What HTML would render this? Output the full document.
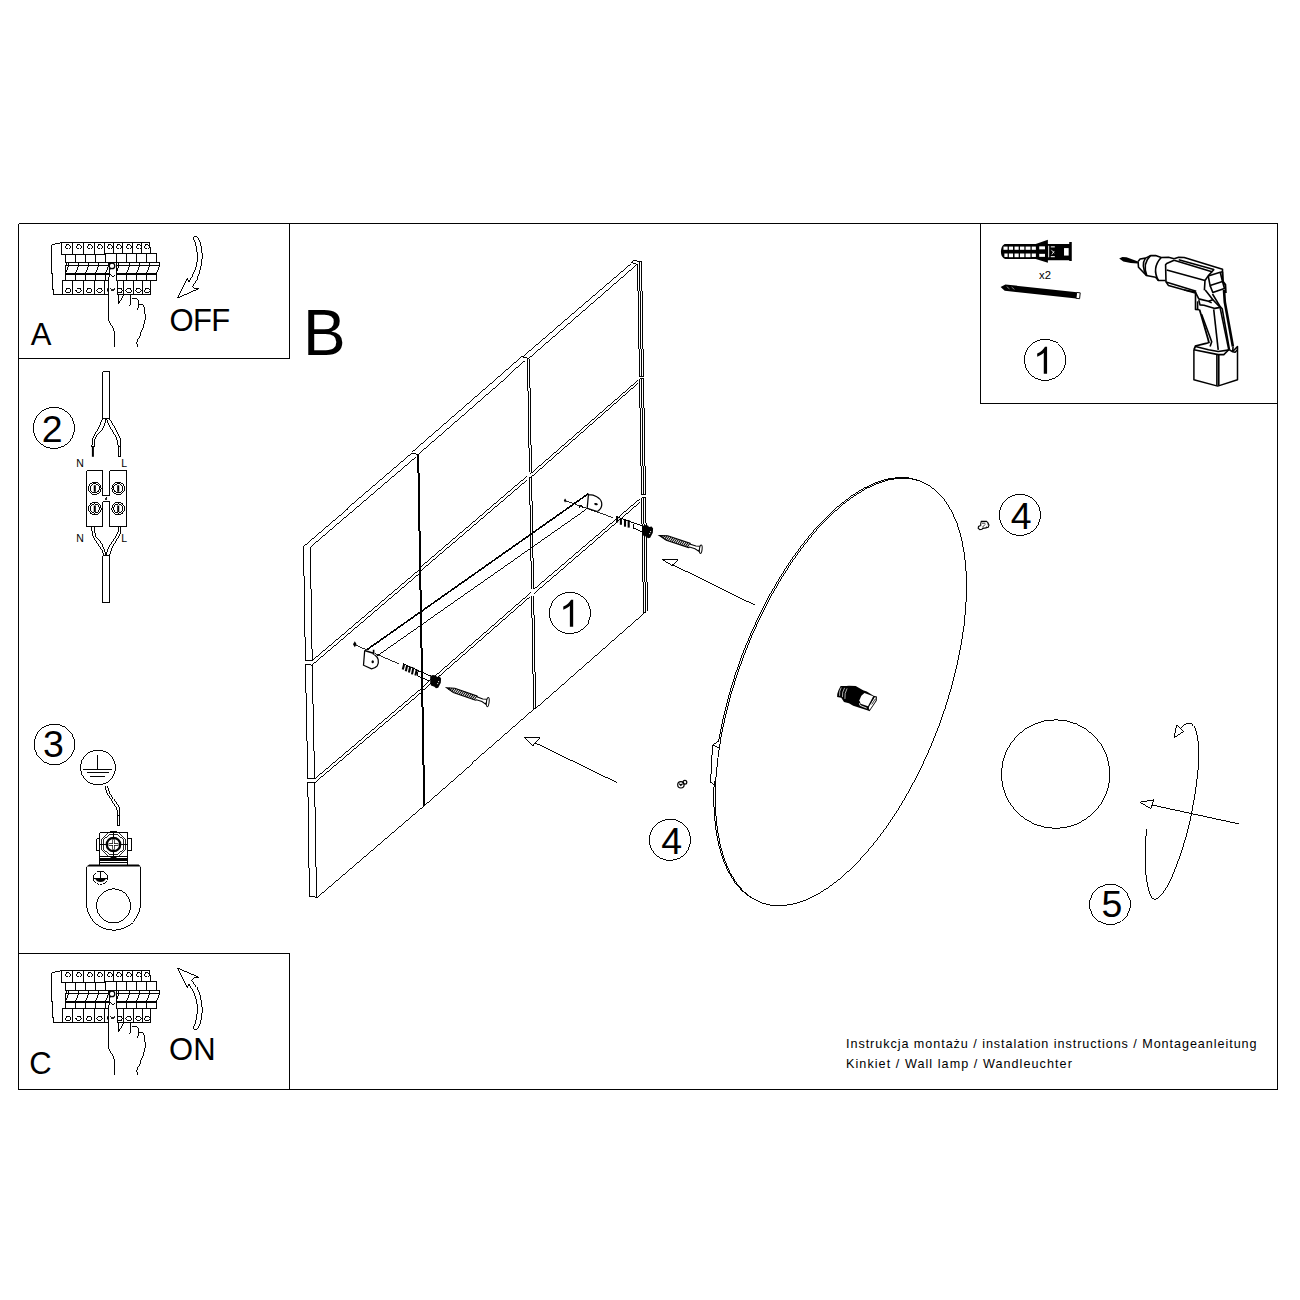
<!DOCTYPE html>
<html><head><meta charset="utf-8"><title>Instrukcja montazu</title>
<style>
html,body{margin:0;padding:0;background:#fff;}
body{width:1300px;height:1300px;overflow:hidden;font-family:"Liberation Sans",sans-serif;}
svg{display:block;position:absolute;left:0;top:0;}
svg text{font-family:"Liberation Sans",sans-serif;fill:#000;}
.l{fill:none;stroke:#000;stroke-width:.99;shape-rendering:crispEdges;}
.t{fill:none;stroke:#000;stroke-width:.85;shape-rendering:crispEdges;}
.m{fill:none;stroke:#000;stroke-width:1.6;stroke-linejoin:round;}
.k{fill:none;stroke:#000;stroke-width:2;}
.f{fill:#000;stroke:none;}
.w{fill:#fff;stroke:#000;stroke-width:1;}
.c{shape-rendering:crispEdges;}
.wl{fill:none;stroke:#000;stroke-width:.99;shape-rendering:crispEdges;}
.wk{fill:none;stroke:#000;stroke-width:2;shape-rendering:crispEdges;}
</style></head><body>
<svg width="1300" height="1300" viewBox="0 0 1300 1300">
<!-- 01_frame.svg -->
<g class="l c">
<path d="M18.5 223.5H1277.5V1089.5H18.5Z"/>
<path d="M18.5 358.5H289.5V223.5"/>
<path d="M18.5 953.5H289.5V1089.5"/>
<path d="M980.5 223.5V403.5H1277.5"/>
</g>
<g id="labels">
<text x="30.8" y="344.6" font-size="31">A</text>
<text x="29.2" y="1074" font-size="31">C</text>
<text x="169.5" y="331.2" font-size="31" letter-spacing="-0.6">OFF</text>
<text x="169.1" y="1059.8" font-size="31">ON</text>
<text x="303.1" y="354.6" font-size="64">B</text>
<text x="846" y="1048.3" font-size="12.6" letter-spacing="0.95">Instrukcja montażu / instalation instructions / Montageanleitung</text>
<text x="846" y="1068.1" font-size="12.6" letter-spacing="1.06">Kinkiet / Wall lamp / Wandleuchter</text>
</g>
<!-- 02_circles.svg -->
<g class="l">
<polygon points="74.4,429.7 73.6,433.7 72.1,437.4 69.9,440.8 67.1,443.7 63.8,446.0 60.0,447.5 56.1,448.4 52.1,448.4 48.1,447.7 44.3,446.2 41.0,444.0 38.1,441.1 35.8,437.8 34.2,434.1 33.4,430.1 33.3,426.1 34.1,422.1 35.6,418.4 37.8,415.0 40.6,412.1 43.9,409.8 47.7,408.3 51.6,407.4 55.6,407.4 59.6,408.1 63.4,409.6 66.7,411.8 69.6,414.7 71.9,418.0 73.5,421.7 74.3,425.7"/>
<polygon points="74.5,748.4 71.4,755.8 65.8,761.4 58.4,764.5 50.4,764.5 43.0,761.4 37.4,755.8 34.3,748.4 34.3,740.4 37.4,733.0 43.0,727.4 50.4,724.3 58.4,724.3 65.8,727.4 71.4,733.0 74.5,740.4"/>
<polygon points="590.4,614.8 589.7,618.8 588.2,622.5 586.0,625.9 583.1,628.8 579.8,631.1 576.1,632.6 572.1,633.5 568.1,633.5 564.1,632.8 560.4,631.3 557.0,629.1 554.1,626.2 551.8,622.9 550.3,619.2 549.4,615.2 549.4,611.2 550.1,607.2 551.6,603.5 553.8,600.1 556.7,597.2 560.0,594.9 563.7,593.4 567.7,592.5 571.7,592.5 575.7,593.2 579.4,594.7 582.8,596.9 585.7,599.8 588.0,603.1 589.5,606.8 590.4,610.8"/>
<polygon points="1065.5,361.7 1064.8,365.7 1063.3,369.4 1061.1,372.8 1058.2,375.7 1054.9,378.0 1051.2,379.5 1047.2,380.4 1043.2,380.4 1039.2,379.7 1035.5,378.2 1032.1,376.0 1029.2,373.1 1026.9,369.8 1025.4,366.1 1024.5,362.1 1024.5,358.1 1025.2,354.1 1026.7,350.4 1028.9,347.0 1031.8,344.1 1035.1,341.8 1038.8,340.3 1042.8,339.4 1046.8,339.4 1050.8,340.1 1054.5,341.6 1057.9,343.8 1060.8,346.7 1063.1,350.0 1064.6,353.7 1065.5,357.7"/>
<polygon points="1040.4,516.7 1039.7,520.7 1038.2,524.4 1036.0,527.8 1033.1,530.7 1029.8,533.0 1026.1,534.5 1022.1,535.4 1018.1,535.4 1014.1,534.7 1010.4,533.2 1007.0,531.0 1004.1,528.1 1001.8,524.8 1000.3,521.1 999.4,517.1 999.4,513.1 1000.1,509.1 1001.6,505.4 1003.8,502.0 1006.7,499.1 1010.0,496.8 1013.7,495.3 1017.7,494.4 1021.7,494.4 1025.7,495.1 1029.4,496.6 1032.8,498.8 1035.7,501.7 1038.0,505.0 1039.5,508.7 1040.4,512.7"/>
<polygon points="690.4,841.6 689.7,845.6 688.2,849.3 686.0,852.7 683.1,855.6 679.8,857.9 676.1,859.4 672.1,860.3 668.1,860.3 664.1,859.6 660.4,858.1 657.0,855.9 654.1,853.0 651.8,849.7 650.3,846.0 649.4,842.0 649.4,838.0 650.1,834.0 651.6,830.3 653.8,826.9 656.7,824.0 660.0,821.7 663.7,820.2 667.7,819.3 671.7,819.3 675.7,820.0 679.4,821.5 682.8,823.7 685.7,826.6 688.0,829.9 689.5,833.6 690.4,837.6"/>
<polygon points="1130.0,908.4 1126.9,915.8 1121.3,921.4 1113.9,924.5 1105.9,924.5 1098.5,921.4 1092.9,915.8 1089.8,908.4 1089.8,900.4 1092.9,893.0 1098.5,887.4 1105.9,884.3 1113.9,884.3 1121.3,887.4 1126.9,893.0 1130.0,900.4"/>
</g>
<g font-size="37.5" text-anchor="middle">
<text x="52.3" y="442">2</text>
<text x="53.5" y="756.7">3</text>
<text x="1021.3" y="528.6">4</text>
<text x="671.7" y="853.8">4</text>
<text x="1112" y="917">5</text>
</g>
<path class="f" transform="translate(1033.1 373.8) scale(0.01831 -0.01831)" d="M763 0H583V1147Q518 1085 412.5 1023Q307 961 223 930V1104Q374 1175 487 1276Q600 1377 647 1472H763Z"/>
<path class="f" transform="translate(559.2 626.8) scale(0.01831 -0.01831)" d="M763 0H583V1147Q518 1085 412.5 1023Q307 961 223 930V1104Q374 1175 487 1276Q600 1377 647 1472H763Z"/>
<!-- 03_breaker.svg -->
<defs><g id="brk">
<path class="l" d="M61.5 242.5L51.5 244.5V273.5H52.5V289.5H53.5V294.5H151"/>
<path class="l" d="M61 242.5H150M61.5 242.5V254M72.5 242.5V254M83.5 242.5V254M94.5 242.5V254M104.5 242.5V254M113.5 242.5V254M122.5 242.5V254M132.5 242.5V254M141.5 242.5V254M149.5 242.5V247.5H150.5V253.5M61 254.5H105.5M105 253.5H157"/>
<path class="l" d="M66 244.5h3l1 1v1l-2 2h-1l-2 -2v-1zM77 244.5h3l1 1v1l-2 2h-1l-2 -2v-1zM88 244.5h3l1 1v1l-2 2h-1l-2 -2v-1zM98 244.5h3l1 1v1l-2 2h-1l-2 -2v-1zM108 244.5h3l1 1v1l-2 2h-1l-2 -2v-1zM117 244.5h3l1 1v1l-2 2h-1l-2 -2v-1zM127 244.5h3l1 1v1l-2 2h-1l-2 -2v-1zM137 244.5h3l1 1v1l-2 2h-1l-2 -2v-1zM145 244.5h3l1 1v1l-2 2h-1l-2 -2v-1z"/>
<path class="l" d="M65.5 254V262.5M75.5 254V262.5M85.5 254V262.5M95.5 254V262.5M105.5 254V262.5M116.5 254V262.5M126.5 254V262.5M136.5 254V262.5M146.5 254V262.5M156.5 254V262.5M65.5 262.5H160M66 265.5H160M159.5 262.5V266M78.5 262.5V266L75.5 273M88.5 262.5V266L85.5 273M98.5 262.5V266L95.5 273M118.5 262.5V266L116.5 273M129.5 262.5V266L126.5 273M139.5 262.5V266L136.5 273M149.5 262.5V266L146.5 273M159.5 262.5V266L156.5 273M68.5 262.5V266L65.8 273M66.3 263Q65 268 65.8 273M108.5 262.5V266L105.5 273"/>
<path class="k" d="M65 274H157"/>
<path class="l" d="M65.5 275V280.5M75.5 275V280.5M85.5 275V280.5M95.5 275V280.5M105.5 275V280.5M116.5 275V280.5M126.5 275V280.5M136.5 275V280.5M146.5 275V280.5M156.5 275V280.5M62 280.5H157M62.5 280.5V294.5M72.5 280.5V294.5M83.5 280.5V294.5M94.5 280.5V294.5M104.5 280.5V294.5M123.5 280.5V294.5M133.5 280.5V294.5M142.5 280.5V294.5M150.5 280.5V294.5"/>
<path class="l" d="M66.5 288.4h3v1l1.5 1l-2 2.5h-2l-2 -2.5l1.5 -1zM77 288.4h3v1l1.5 1l-2 2.5h-2l-2 -2.5l1.5 -1zM87.5 288.4h3v1l1.5 1l-2 2.5h-2l-2 -2.5l1.5 -1zM98.1 288.4h3v1l1.5 1l-2 2.5h-2l-2 -2.5l1.5 -1zM118.3 288.4h3v1l1.5 1l-2 2.5h-2l-2 -2.5l1.5 -1zM127.4 288.4h3v1l1.5 1l-2 2.5h-2l-2 -2.5l1.5 -1zM136.9 288.4h3v1l1.5 1l-2 2.5h-2l-2 -2.5l1.5 -1zM145.6 288.4h3v1l1.5 1l-2 2.5h-2l-2 -2.5l1.5 -1z"/>
<path d="M107 288.3h1.4v3.2h-1.4z" class="f"/>
<path d="M109.5 265V276L108.5 278V319C109.5 324 114.5 328 114.5 333.5V347.3L137.7 346.5C136 344 136.6 342.5 137.6 340C139.5 335 142.5 331 143.4 327C144.5 322 145.8 319 145.5 316.5L144.6 312.8L144.1 306.8L142.3 304.2H138.8L138.6 300.3L136.3 298.2L131.9 298.5L130.8 297.1L129.8 295.2H117.5V280.5H116.5V263Z" fill="#fff" stroke="none"/>
<path class="l" d="M109.5 268V276L108.5 278V319C109.5 324.5 114.5 328 114.5 333.5V347.3"/>
<path class="l" d="M116.5 262.5V280.5M117.5 280.5V294.5M118.5 294.5V303.5L123.8 295.2M130.5 295V304.6L129.4 306.3"/>
<path class="l" d="M131.9 298.5L136.3 298.2L138.6 300.3V307.7L137.2 309.5"/>
<path class="l" d="M138.8 304.2H142.3L144.1 306.8L144.6 312.8L145.5 314.6V317.4C145 321 144.2 324.5 143 328C141.5 332 138.5 337 137.2 341C136.6 343.4 137 345 137.8 346.6"/>
<path d="M108.5 262.5h2.5l-1.6 2.5z" class="f"/>
<path d="M108.8 267.5l2 1.8l-1.5 1z" class="f"/>
<circle cx="112" cy="265.9" r="2.75" fill="#fff" stroke="#000" stroke-width="1.25"/>
<path class="l" d="M110 274.6Q112.5 277.6 115 274.6"/>
<path class="t" d="M110.2 288.3L111.8 290.1L114.6 288.5M111.3 290.1Q112.8 292.3 114.6 289.9"/>
</g></defs>
<use href="#brk"/>
<use href="#brk" transform="translate(0 728)"/>
<!-- 04_arrows.svg -->
<defs><path id="carr" class="l" d="M193.2 237.5Q195.6 235.2 198.3 237.5C200.5 243 201.8 248 202 252.7C202.3 257 202 260 201.5 263.8C200.5 270 199 274 197 278.5L191.9 286.4L195 288.7L198.8 288.2L177.5 297.5L187.5 277.6L188.6 282.2C191 278.5 193 275 194.6 271.2C196 268 196.8 265 197 262C197.4 257 197.2 252 196.5 248C195.8 244 194.5 240.5 193.2 237.5Z"/></defs>
<use href="#carr"/>
<use href="#carr" transform="translate(0 1265.9) scale(1 -1)"/>
<!-- 05_step2.svg -->
<g class="l">
<!-- upper cable -->
<path d="M102.5 371.5H109.5V418.5H102.5Z"/>
<!-- upper wires -->
<path d="M102.8 418.6C100.5 424 98 429 95.3 433.7C93.8 436 92.6 437.5 92.6 439.3V444.5L91.4 445.2V446.6H94.5V441.2C94.7 439.5 95 438.2 95.8 436.9C98.5 433.5 100.8 431.5 102.6 429.4C104.2 426 105.3 422.5 106 418.9"/>
<path d="M109.6 418.9C112.5 424 115 428 117.5 432.5C119 435.5 120.4 437.8 120.4 440.2V456.6H118.2V444.5C117.9 442.5 117.4 440.5 116.8 438.5C113.5 432.5 109.5 427 106.6 419.4"/>
<path d="M118.2 446.6H120.4"/>
<!-- terminal block -->
<path d="M86.5 470.5H102.5V495.5H109.5V470.5H126.5V526.5H109.5V501.5H102.5V526.5H86.5Z"/>
<!-- lower wires -->
<path d="M91.5 526.6C91.8 530 92.3 533.5 93.2 536.6C96 541.5 99.5 546.5 102.5 551.2L103.9 555M93.9 526.6C94.2 529.5 94.6 532 95.3 534.5C97.5 538 100 541 101.9 544.2C103.5 547.5 105 551 106 554.6"/>
<path d="M120.9 526.6C120.8 529 120.6 531.5 120.2 533.9C117.5 538.5 114.5 543 112.2 547.7L109.8 554.6M118.8 526.6C118.6 529 118.3 531 117.8 533.2C115 538 111.5 542.5 108.8 547C107.8 549.5 107 552 106.4 554.6"/>
<!-- lower cable -->
<path d="M102.5 555.5H109.5V602.5H102.5Z"/>
</g>
<path class="k" d="M92.9 446.6V456.8"/>
<g class="l">
<circle cx="94.8" cy="488.3" r="6.3"/><circle cx="94.8" cy="488.3" r="4.6"/>
<circle cx="118.2" cy="488.3" r="6.3"/><circle cx="118.2" cy="488.3" r="4.6"/>
<circle cx="94.8" cy="508.5" r="6.3"/><circle cx="94.8" cy="508.5" r="4.6"/>
<circle cx="118.2" cy="508.5" r="6.3"/><circle cx="118.2" cy="508.5" r="4.6"/>
</g>
<path class="k" d="M94.8 485.2V491.8M118.2 485.2V491.8M94.8 505.4V512M118.2 505.4V512"/>
<path class="t" d="M104.5 498.5L106.5 497L106.8 499.2H104.8Z"/>
<g font-size="10.5">
<text x="76.3" y="466.6">N</text>
<text x="121.2" y="466.6">L</text>
<text x="76.3" y="541.6">N</text>
<text x="121.2" y="541.6">L</text>
</g>
<!-- 06_step3.svg -->
<g class="l">
<circle cx="97.9" cy="767.5" r="17.4"/>
<path d="M97.5 755V769.5M82.8 769.5H112.3M87 772.5H109.2M90.2 776.5H105"/>
<!-- wire -->
<path d="M105.2 786.2C105.5 789 106 791 106.9 793.1C110 798 113.5 803 116.2 807.7C117 809.5 117.3 811.5 117.3 813.8V825.5H119.6V809.6C119.4 808.2 119 807.2 118.5 806.2C115.5 801.5 112 796.5 109.2 791.5C108.4 789.8 107.8 788 107.5 786.2"/>
<path d="M117.3 815H119.6"/>
<!-- terminal -->
<path d="M99.5 832.5H127.5V865H99.5Z"/>
<path d="M99.5 838.5H96.5V850.5H99.5M127.5 838.5H131.5V850.5H127.5"/>
<path d="M99.5 844.5H106M121 844.5H127.5M113.5 832.5V837M113.5 852V857"/>
</g>
<path class="f" d="M110 831H117V833H110Z"/>
<g class="t">
<path d="M108.3 832.9L101.6 839.4V849.6L108.3 856.1H118.7L125.4 849.6V839.4L118.7 832.9Z"/>
<path d="M109 834.6L103.3 840.1V848.9L109 854.4H118L123.7 848.9V840.1L118 834.6Z"/>
</g>
<circle cx="113.5" cy="844.5" r="6.7" fill="#fff" stroke="#000" stroke-width="2.3"/>
<path d="M113.5 839.3V849.7M108.6 844.5H118.4" stroke="#000" stroke-width="2.4" fill="none"/>
<path d="M113.5 839.8V849.2M109.1 844.5H117.9" stroke="#fff" stroke-width="1.1" fill="none"/>
<path class="f" d="M110.5 856H116.5V858.5H110.5Z"/>
<path class="l c" d="M99.5 856.5H127.5"/>
<rect x="99" y="858" width="29" height="3" class="f"/>
<rect x="99" y="862" width="29" height="1" class="f"/>
<!-- body -->
<path class="f" d="M89.3 864.4H138.7L140.8 866.6H86.4Z"/>
<path class="l" d="M86.5 866.5V903.2A27 27 0 0 0 140.5 903.2V866.5"/>
<circle class="l" cx="113.6" cy="905.9" r="17"/>
<!-- small screw -->
<ellipse class="l" cx="100.5" cy="877.9" rx="7.1" ry="6.6" stroke-dasharray="2.2 0.9"/>
<path class="l" d="M100.5 871.5V878.5M93.6 878.5H107.4"/>
<path class="f" d="M95 878.5H106Q104.2 882 100.5 882Q96.8 882 95 878.5Z"/>
<!-- 07_wall.svg -->
<path class="wl" d="M303.5 545.8L411.4 453.5M412.4 451.9L521.5 356.9M521.5 356.9L631.4 262.6M310.3 547.2L415.7 457.2M417.5 454.2L525 360.6M528.3 358.8L636.5 264.9M411.4 453.5L417.5 454.2M521.5 356.9L528.9 358.8M631.4 262.6L633 261L636.9 260.9M631.4 262.6L637.6 264.5M636.9 261.5L641.8 261.5M303.5 545.8L305.4 660.3L312.2 660.3M310.3 547.2L312.2 660.3M312.2 665.2L305.4 664L307.8 778.5L314.6 779M312.2 665.2L314.6 779M314.6 782.8L307.8 782.2L309.4 896L316.5 897.2M314.6 782.8L316.5 897.2M312.2 660.6L419.3 569.7M312.2 664.9L419.3 573.6M420.7 567L526.5 476.6M420.7 570.9L526.5 480.5M529.5 473.8L638.4 379.1M529.5 477.7L638.1 382.3M314.6 779L420.5 689.2M314.6 782.8L420.5 693.1M422 687.4L530.5 592.8M422 691.3L530 596.7M533.7 589.5L640.4 498.4M534.1 593.5L640.4 501.9M316.5 897.2L423.5 805.5L534.5 708.6L643.5 612.9M527.44 358.8L529.44 472.4M529.49 358.8L531.49 472.4M529.52 476.6L531.5 589.2M531.57 476.6L533.55 589.2M531.62 595.8L533.61 708.6M533.67 595.8L535.66 708.6M637.57 264.5L639.49 376.5M639.52 261.5L641.49 376.5M641.52 261.5L643.49 376.5M639.49 376.5L644.39 376.5M639.52 378.5L644.42 378.5M639.52 378.5L641.51 494.5M641.52 378.5L643.51 494.5M643.52 378.5L645.51 494.5M641.51 494.5L646.41 494.5M641.56 497.5L646.46 497.5M641.56 497.5L643.53 612.5M643.56 497.5L645.53 612.5M645.56 497.5L647.5 610.6M643.53 612.5L646.43 612.5"/>
<path class="wk" d="M418.2 454.5L424.2 805.5"/>
<!-- 08_hardware.svg -->
<path class="wl" style="stroke-width:1.6" d="M588.5 493.6L367.2 649.5"/>
<path class="wl" d="M585.8 509.6L377.2 655.9"/>
<path style="fill:none;stroke:#000;stroke-width:1.25" d="M588.5 493.6L587.2 508.4L597.5 511.5M588.8 494.6C592 494.6 594.5 495.3 596.8 496.7C599.5 498.2 601 500 601.5 502.2C601.9 504 601.8 505.8 601.2 507.2C600.4 509 599 510.5 597.5 511.5"/>
<ellipse class="f" cx="596" cy="504.1" rx="1.9" ry="1.1" transform="rotate(15 596 504.1)"/>
<path class="f" d="M565.1 498.4L566.5 500.4L565.1 502.6L563.8 500.4Z"/>
<path class="l" d="M580.8 504.6L582.1 506.5L580.8 508.4L579.5 506.5Z"/>
<path class="t" d="M565.1 500.6L612.8 517.6"/>
<path style="fill:none;stroke:#000;stroke-width:1.25" d="M364.7 650.4L363.5 665.2L371.5 668.8C374 668.5 376 667.3 377.2 665.8C378.3 664 378.6 661.5 378.2 659.6C377.6 657.5 376.2 655.8 374.5 654.7"/>
<path class="k" style="stroke-width:1.6" d="M364.7 650.6L374.2 653.6M373.6 649.8V654.7"/>
<ellipse class="f" cx="372.7" cy="661.8" rx="1.2" ry="1.5"/>
<path class="f" d="M354.8 641.2L356.6 644.2L354.8 647.3L353 644.2Z"/>
<path class="t" d="M354.8 644.4L367 650.2M375 653.5L399.2 663.9"/>
<path style="fill:none;stroke:#000;stroke-width:2.1" d="M617.1 516.5L617.1 522.5"/>
<path style="fill:none;stroke:#000;stroke-width:2.1" d="M620.9 518.4L620.9 524.8"/>
<path style="fill:none;stroke:#000;stroke-width:2.1" d="M625 519L625 526.7"/>
<path style="fill:none;stroke:#000;stroke-width:2.1" d="M628.7 520.2L628.7 527.6"/>
<path class="l" d="M616 516.4L642 525.9"/>
<path class="l" d="M634.6 523Q632.1 525.5 633.4 528.1L642.2 531.8"/>
<path class="f" d="M642.2 526.2l2.5 -1.2l3.3 0.6l1 1.3l2.6 -0.4l1.5 2l-0.3 4.3l-2.6 5l-2.2 0.5l-1.6 -1.5l-3.4 -1.2l-0.8 -2.5z"/>
<circle cx="650.6" cy="531.6" r=".6" fill="#fff"/><circle cx="649.7" cy="533.6" r=".6" fill="#fff"/>
<path style="fill:none;stroke:#000;stroke-width:2.1" d="M404.2 663.9L402.8 669.6"/>
<path style="fill:none;stroke:#000;stroke-width:2.1" d="M407.2 665.2L405.8 671.3"/>
<path style="fill:none;stroke:#000;stroke-width:2.1" d="M410.3 666.4L408.9 672.6"/>
<path style="fill:none;stroke:#000;stroke-width:2.1" d="M413.4 667.6L412 674.4"/>
<path style="fill:none;stroke:#000;stroke-width:2.1" d="M416.8 669.4L415.4 675.6"/>
<path class="l" d="M402.8 663.7L431.2 676.2"/>
<path class="l" d="M418.8 670.7Q416.3 673.5 417.6 676.2L430 681.2"/>
<path class="f" d="M430.2 676.2l2.5 -1.2l3.3 0.6l1 1.3l2.6 -0.4l1.5 2l-0.3 4.3l-2.6 5l-2.2 0.5l-1.6 -1.5l-3.4 -1.2l-0.8 -2.5z"/>
<circle cx="438.6" cy="681.6" r=".6" fill="#fff"/><circle cx="437.7" cy="683.6" r=".6" fill="#fff"/>
<path class="w" style="stroke-width:1.05" d="M659.4 535.5L667.7 535.8L690 543.2L690.5 544.3L695.9 546.1L700.4 546.3L698.7 551.3L695 548.8L689.6 547L688.6 547.6L666.3 540.2Z"/>
<path style="fill:none;stroke:#000;stroke-width:1.05" d="M663 535.8L661 536.9M665.1 535.9L662.7 538.1M667.2 535.9L664.5 539.3M669.1 536.3L666.3 540.2M671 536.9L668.2 540.8M672.9 537.6L670.1 541.5M674.8 538.2L672 542.1M676.7 538.8L673.9 542.7M678.6 539.4L675.8 543.3M680.5 540.1L677.7 544M682.4 540.7L679.6 544.6M684.3 541.3L681.5 545.2M686.2 542L683.4 545.9M688.1 542.6L685.3 546.5M690 543.2L687.2 547.1"/>
<ellipse cx="700.8" cy="549.2" rx="1.3" ry="4.2" transform="rotate(6.3 700.8 549.2)" style="fill:#fff;stroke:#000;stroke-width:1"/>
<path class="w" style="stroke-width:1.05" d="M446.5 687.7L454.8 688.2L477 695.9L477.5 697L482.8 698.9L487.4 699.2L485.7 704.1L481.9 701.5L476.5 699.7L475.5 700.2L453.3 692.5Z"/>
<path style="fill:none;stroke:#000;stroke-width:1.05" d="M450.1 688L448.1 689.2M452.2 688.2L449.8 690.4M454.2 688.3L451.5 691.6M456.2 688.7L453.3 692.5M458.1 689.3L455.2 693.2M460 690L457.1 693.8M461.9 690.6L459 694.5M463.8 691.3L460.9 695.1M465.7 691.9L462.7 695.8M467.6 692.6L464.6 696.5M469.4 693.3L466.5 697.1M471.3 693.9L468.4 697.8M473.2 694.6L470.3 698.4M475.1 695.2L472.2 699.1M477 695.9L474.1 699.7"/>
<ellipse cx="487.8" cy="702.1" rx="1.3" ry="4.6" transform="rotate(7.2 487.8 702.1)" style="fill:#fff;stroke:#000;stroke-width:1"/>
<path class="wl" d="M662.1 559.5L755 605.2"/>
<path class="wl" d="M662.1 559.5H677.8L671.5 565.2Z" style="fill:#fff"/>
<path class="wl" d="M524.3 737.6L616.6 782.4"/>
<path class="wl" d="M524.3 737.6H540L532.6 746Z" style="fill:#fff"/>
<!-- 09_disc.svg -->
<!-- back face then front face -->
<ellipse cx="839.3" cy="691.3" rx="225.3" ry="103.7" transform="rotate(-69.24 839.3 691.3)" style="fill:#fff;stroke:#000;stroke-width:.99;shape-rendering:crispEdges"/>
<ellipse cx="840.9" cy="692" rx="225.3" ry="103.7" transform="rotate(-69.24 840.9 692)" style="fill:#fff;stroke:#000;stroke-width:.99;shape-rendering:crispEdges"/>
<!-- tab -->
<path class="wl" d="M719.4 740.8L712.9 744.8L712.5 746.2L710.5 782.9L713.8 785.2L715 781" style="fill:#fff"/>
<path class="l" d="M712.9 744.8L716.5 747L718.8 748.8"/>
<!-- connector -->
<g transform="translate(820 670) scale(0.061538)">
<path class="f" d="M335 258L425 262L470 255L580 262L700 330L760 350L870 420L925 430L922 500L805 672L780 660L640 615L540 580L470 540L390 520L345 450L278 440L280 390L300 330Z"/>
<path d="M722 372L865 425L780 590L660 548L640 490L672 420Z" fill="#fff"/>
<path d="M880 450L905 440L905 500L810 640L795 640L795 600Z" fill="#fff"/>
<path d="M640 540L650 575L760 620" style="fill:none;stroke:#fff;stroke-width:14"/>
<path d="M345 285Q310 340 318 420M400 290Q355 360 365 440M440 300Q395 380 405 470" style="fill:none;stroke:#fff;stroke-width:11"/>
<path d="M840 560L900 470M815 545L875 455" style="fill:none;stroke:#000;stroke-width:12"/>
</g>
<!-- small screws 4 -->
<g style="fill:none;stroke:#000;stroke-width:1.2">
<circle cx="680.9" cy="784.8" r="3.2"/><circle cx="684.9" cy="782.3" r="1.9"/><path d="M679.2 783.6l1.6 1.8l1.7 -1.6"/>
</g>
<g style="fill:#fff;stroke:#000;stroke-width:1.1">
<path d="M981.3 521.4h5.2l1.6 1.5v2.4l-2.2 2.6l-3.4 .6l-1.8 -1.2v-3.6z"/>
<path d="M980.7 525.6l-2.2 .9l-.3 1.8l1.6 1.3l2.2 -.4l1.4 -1.6"/>
<path d="M986 527.8l2.2 -.6l.8 -2.2l-1 -1.6"/>
<path d="M982 523.2h3.4M982.6 527l2.6 -2.6" style="stroke-width:.8"/>
</g>
<!-- ball -->
<circle class="wl" cx="1055.6" cy="774.1" r="54.3"/>
<!-- rotation arrow -->
<path class="wl" d="M1146.6 828.9C1144.5 850 1144.5 870 1147.5 885C1149.5 895 1152 899.5 1155 899.2C1160 898.5 1166 890 1171.5 878C1180 858 1187 836 1191.4 814.2C1196 790 1198.8 770 1198.8 753.8C1198.8 740 1196.5 728 1192.5 724.5C1187.5 720.5 1180 727 1174.2 737.8"/>
<path class="wl" d="M1174.2 737.8L1176.6 725L1183.5 731.7Z" style="fill:#fff"/>
<!-- straight arrow -->
<path class="wl" d="M1139.7 802.3L1239.4 824"/>
<path class="wl" d="M1139.7 802.3L1153.7 799.9L1150.8 808.5Z" style="fill:#fff"/>
<!-- 10_box1.svg -->
<g transform="translate(985 225) scale(0.11538)">
<path class="f" d="M170 165H440L545 128V165H730V148H752V312H730V305H545V328L440 295H175Q138 280 138 232Q138 185 170 165Z"/>
<g fill="#fff">
<rect x="160" y="187" width="36" height="28"/><rect x="207" y="187" width="36" height="28"/><rect x="256" y="187" width="36" height="28"/><rect x="303" y="187" width="38" height="28"/><rect x="352" y="187" width="42" height="28"/><rect x="405" y="187" width="36" height="28"/><rect x="470" y="185" width="50" height="26"/>
<rect x="168" y="247" width="28" height="30"/><rect x="207" y="247" width="36" height="32"/><rect x="256" y="247" width="36" height="32"/><rect x="303" y="247" width="38" height="32"/><rect x="352" y="247" width="42" height="32"/><rect x="405" y="247" width="36" height="30"/><rect x="470" y="250" width="50" height="26"/>
<rect x="685" y="200" width="40" height="65"/>
<rect x="548" y="180" width="8" height="100"/><rect x="570" y="185" width="35" height="9"/><rect x="570" y="270" width="35" height="9"/>
</g>
<path d="M575 215L600 245M580 255L600 225" stroke="#fff" stroke-width="7" fill="none"/>
</g>
<text x="1039" y="278.7" font-size="11.3" fill="#222">x2</text>
<g transform="translate(1000.6 286.9) rotate(6.2)">
<path class="f" d="M0 0L4.5 -2.9H76.5V3.4H4.5Z"/>
<rect x="76.2" y="-2.7" width="3.6" height="5.9" fill="#fff" stroke="#000" stroke-width=".9"/>
<path d="M6 -1L9 1M11 -1L14 1" stroke="#fff" stroke-width=".5"/>
</g>
<path class="f" d="M1119.2 258.4L1122.4 257L1126.5 257.3L1138.1 261.4L1137.6 263.6L1130.7 263L1123.3 261.6Z"/>
<path class="m" d="M1138.1 261.4L1140.1 259L1145.5 258.1L1150.5 255.6L1155.6 255.6L1161.2 257.5L1168.5 257.3L1174.1 258.8"/>
<path class="m" d="M1138.1 261.6L1138.5 267.2L1146.4 275.5L1155.6 277.3L1158.4 280.5L1165.6 280.5"/>
<path class="m" d="M1145.5 258.1Q1140.8 264.8 1146.4 275.5"/>
<path class="m" d="M1150.5 255.7Q1142.2 263.5 1146.8 275.5"/>
<path class="m" d="M1161.2 257.5Q1151.5 268.1 1158.4 280.5"/>
<path class="m" d="M1174.1 258.8L1178.7 257.2L1184.2 257.5L1222.5 269.2L1222.5 271.8L1220.2 272.2L1208.2 275.9"/>
<path class="m" d="M1174.1 260.2L1211.9 271.8L1214.2 269.2"/>
<path class="m" d="M1178.7 259.8L1213.8 269.5"/>
<path class="m" d="M1174.1 260.2L1166.7 263.5L1165.6 264.8L1166 281.9L1168.5 285.6L1195.3 293"/>
<path class="m" d="M1166 281.9L1196.2 291.2"/>
<path class="m" d="M1166.7 269.9L1205 280.5"/>
<path class="m" d="M1211.9 271.8L1208.2 275.9L1205 280.5L1204.4 290.2"/>
<path class="m" d="M1208.2 275.9L1210.1 285.6L1222.5 281.5L1220.2 272.2"/>
<path class="m" d="M1210.1 285.6L1212.8 292.5L1224.4 288.4L1222.5 281.5"/>
<path class="k" d="M1222.5 271.8L1223 281.5L1225.3 284.7L1225.8 293"/>
<path class="k" style="stroke-width:2.6" d="M1224 290L1224.8 302.1L1232.9 346.5"/>
<path class="m" style="stroke-width:1.6" d="M1184.2 290L1195.5 292L1195.5 309.4L1199.6 309.8"/>
<path class="m" d="M1197.6 301.3L1197.6 309.2"/>
<path class="m" d="M1195.5 292.4L1198.8 298.9L1208.5 301.3L1212.9 299.7L1207.2 292.4L1205.2 290"/>
<path class="m" d="M1198.8 300.1L1200 304.9L1204 305.2L1214.9 308.4L1220.2 307.4L1212.9 299.7"/>
<path class="m" d="M1208.5 301.3L1211.7 302.9"/>
<path class="m" d="M1212.5 294L1220.2 306.6L1222.2 308.7L1229.5 349.8"/>
<path class="k" style="stroke-width:1.8" d="M1199.6 309.8L1208.1 339.3L1208.9 342.5L1206 343.5L1195.5 345.9L1193.9 349.8"/>
<path class="m" d="M1201.6 314.2L1211.7 341.7L1210.1 346.5"/>
<path class="m" d="M1213.7 309.4L1218.2 349.8"/>
<path class="m" d="M1220.2 308.2L1228.7 349.4"/>
<path class="m" style="stroke-width:1.5" d="M1193.9 349.8L1193.9 379.7L1217.7 386.1L1237.5 379.7L1237.5 346.5L1232.7 351.5"/>
<path class="m" d="M1193.9 349.8L1218.2 354.6L1223.8 354.6L1227 351.5L1228.7 349.4"/>
<path class="m" d="M1195.5 346.5L1208.5 349.8L1218.2 351.5L1229.5 349.9"/>
<path class="m" d="M1216.9 354.6L1216.9 385.7"/>
<path class="m" d="M1218.8 354.6L1218.8 385.7"/>
<path class="m" d="M1229.5 349.9L1232.7 351.8L1235.1 352.2L1237.5 349.8"/>
<path class="m" d="M1233.1 346.5L1232.7 351.5"/>
</svg>
</body></html>
